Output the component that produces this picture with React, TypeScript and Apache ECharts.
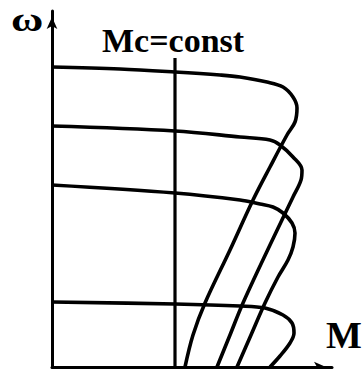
import React, { useEffect, useRef } from "react";
import * as echarts from "echarts";

// Torque M (x) and speed ω (y), arbitrary units
const curve1: [number, number][] = [
  [0, 300], [68, 298], [123, 295], [168, 292], [188, 290], [215, 285], [231, 280],
  [241, 270], [245, 259], [243, 245], [235, 232], [218, 200], [201, 167],
  [178, 117], [153, 64], [141, 32], [133, 0],
];
const curve2: [number, number][] = [
  [0, 241], [123, 236], [188, 230], [218, 227], [228, 222], [241, 210], [250, 197],
  [249, 187], [241, 170], [218, 122], [191, 64], [178, 32], [165, 0],
];
const curve3: [number, number][] = [
  [0, 182], [123, 174], [188, 167], [208, 163], [221, 160], [231, 154], [240, 144],
  [243, 134], [241, 120], [236, 107], [226, 90], [213, 64], [199, 32], [185, 0],
];
const curve4: [number, number][] = [
  [0, 65], [123, 63], [188, 61], [213, 59], [231, 52], [240, 44], [242, 34],
  [238, 24], [228, 11], [218, 0],
];
const mcLine: [number, number][] = [[123, 0], [123, 309]];

const xMax = 280;
const yMax = 356;

const SERIF = "'Liberation Serif', 'Times New Roman', serif";

export default function App() {
  const ref = useRef<HTMLDivElement>(null);
  useEffect(() => {
    if (!ref.current) return;
    const chart = echarts.init(ref.current, undefined, { renderer: "svg" });
    const curveStyle = { color: "#000", width: 3.6 };
    const mk = (data: [number, number][]) => ({
      type: "line",
      data,
      smooth: 0.35,
      showSymbol: false,
      lineStyle: curveStyle,
      silent: true,
    });
    const axisLine = {
      show: true,
      onZero: false,
      symbol: ["none", "arrow"],
      symbolSize: [8, 12],
      symbolOffset: [0, -6],
      lineStyle: { color: "#000", width: 3 },
    };
    chart.setOption({
      animation: false,
      backgroundColor: "#fff",
      grid: { left: 52, right: 31, top: 11, bottom: 2 },
      xAxis: {
        type: "value",
        min: 0,
        max: xMax,
        axisLine,
        axisTick: { show: false },
        axisLabel: { show: false },
        splitLine: { show: false },
      },
      yAxis: {
        type: "value",
        min: 0,
        max: yMax,
        axisLine,
        axisTick: { show: false },
        axisLabel: { show: false },
        splitLine: { show: false },
      },
      graphic: [
        {
          type: "text",
          x: 11,
          y: 3,
          scaleX: 1.3,
          style: { text: "ω", font: `bold 34px ${SERIF}`, fill: "#000" },
        },
        {
          type: "text",
          left: 102,
          top: 23,
          style: { text: "Mc=const", font: `bold 34px ${SERIF}`, fill: "#000" },
        },
        {
          type: "text",
          left: 326,
          top: 316,
          style: { text: "M", font: `bold 38px ${SERIF}`, fill: "#000" },
        },
      ],
      series: [
        mk(curve1),
        mk(curve2),
        mk(curve3),
        mk(curve4),
        {
          type: "line",
          data: mcLine,
          showSymbol: false,
          lineStyle: { color: "#000", width: 3.2 },
          silent: true,
        },
      ],
    });
    return () => chart.dispose();
  }, []);
  return (
    <div
      ref={ref}
      style={{ position: "fixed", left: 0, top: 0, width: 363, height: 369, background: "#fff" }}
    />
  );
}
